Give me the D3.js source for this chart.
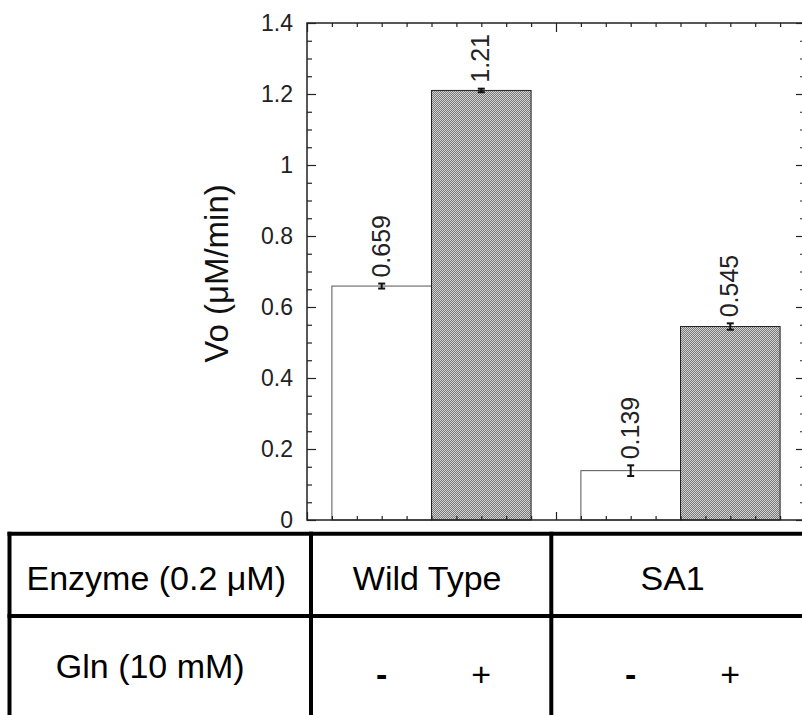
<!DOCTYPE html>
<html>
<head>
<meta charset="utf-8">
<script src="https://cdn.jsdelivr.net/npm/d3@7"></script>
<style>
  body { margin: 0; background: white; }
  svg { display: block; font-family: "Liberation Sans", Arial, Helvetica, sans-serif; }
</style>
</head>
<body>
<div id="chart"></div>
<script>
// Data
const groups = ["Wild Type", "SA1"];
const glnLevels = ["-", "+"];
const wtValues = [0.659, 1.21];
const sa1Values = [0.139, 0.545];
const wtErrors = [0.007, 0.005];
const sa1Errors = [0.015, 0.009];
const yTickValues = [0, 0.2, 0.4, 0.6, 0.8, 1, 1.2, 1.4];
const rowLabels = ["Enzyme (0.2 \u03bcM)", "Gln (10 mM)"];

const bars = [];
[wtValues, sa1Values].forEach((vals, gi) => {
    vals.forEach((v, li) => {
        bars.push({
            group: groups[gi],
            gln: glnLevels[li],
            value: v,
            err: [wtErrors, sa1Errors][gi][li]
        });
    });
});

// Dimensions
const width = 802,
      height = 715;

const plot = { left: 307, right: 805, top: 23, bottom: 520 };

const svg = d3.select("#chart")
    .append("svg")
    .attr("width", width)
    .attr("height", height)
    .style("background", "white");

// dotted grey fill for the "+" bars
const pat = svg.append("defs").append("pattern")
    .attr("id", "dots")
    .attr("width", 2)
    .attr("height", 2)
    .attr("patternUnits", "userSpaceOnUse");
pat.append("rect").attr("width", 2).attr("height", 2).attr("fill", "#7a7a7a");
pat.append("rect").attr("width", 1).attr("height", 1).attr("fill", "#d2d2d2");
pat.append("rect").attr("x", 1).attr("y", 1).attr("width", 1).attr("height", 1).attr("fill", "#d2d2d2");

// Scales
const x = d3.scaleLinear()
    .domain([0, 20])
    .range([plot.left, plot.right]);

const xGroup = d3.scaleBand()
    .domain(groups)
    .range([x(0), x(20)])
    .paddingInner(0.2)
    .paddingOuter(0.1);

const xInner = d3.scaleBand()
    .domain(glnLevels)
    .range([0, xGroup.bandwidth()]);

const y = d3.scaleLinear()
    .domain([0, 1.4])
    .range([plot.bottom, plot.top]);

const barX = d => xGroup(d.group) + xInner(d.gln);
const barCenter = d => barX(d) + xInner.bandwidth() / 2;

// Bars
svg.append("g")
    .selectAll("rect")
    .data(bars)
    .join("rect")
    .attr("x", barX)
    .attr("y", d => y(d.value))
    .attr("width", xInner.bandwidth())
    .attr("height", d => y(0) - y(d.value))
    .attr("fill", d => d.gln === "+" ? "url(#dots)" : "white")
    .attr("stroke", d => d.gln === "+" ? "#222" : "#555")
    .attr("stroke-width", 1);

// Error bars
const eb = svg.append("g")
    .attr("stroke", "#111")
    .attr("stroke-width", 2);

bars.forEach(d => {
    const cx = barCenter(d);
    eb.append("line")
        .attr("x1", cx).attr("x2", cx)
        .attr("y1", y(d.value - d.err))
        .attr("y2", y(d.value + d.err));
    [d.value - d.err, d.value + d.err].forEach(v => {
        eb.append("line")
            .attr("x1", cx - 3.5).attr("x2", cx + 3.5)
            .attr("y1", y(v)).attr("y2", y(v));
    });
});

// Value labels
svg.append("g")
    .selectAll("text")
    .data(bars)
    .join("text")
    .attr("transform", d => `translate(${barCenter(d) + 8},${y(d.value + d.err) - 6}) rotate(-90)`)
    .attr("text-anchor", "start")
    .style("font-size", "25px")
    .style("fill", "#222")
    .text(d => String(d.value));

// Frame
svg.append("rect")
    .attr("x", plot.left)
    .attr("y", plot.top)
    .attr("width", plot.right - plot.left)
    .attr("height", plot.bottom - plot.top)
    .attr("fill", "none")
    .attr("stroke", "#222")
    .attr("stroke-width", 1.5);

// Ticks (all pointing inward)
const yMinor = d3.range(0, 29).map(i => +(i * 0.05).toFixed(2)).filter(v => !yTickValues.includes(v));
const xMajor = [0, 10, 20];
const xMinor = d3.range(0, 21).filter(v => !xMajor.includes(v));

function tickGroup(axis, transform) {
    const g = svg.append("g")
        .attr("transform", transform)
        .call(axis);
    g.select(".domain").remove();
    g.selectAll(".tick line").attr("stroke", "#222").attr("stroke-width", 1.2);
    return g;
}

const yAxis = tickGroup(
    d3.axisLeft(y).tickValues(yTickValues).tickSize(-9).tickPadding(14).tickFormat(d => String(d)),
    `translate(${plot.left},0)`);
yAxis.selectAll("text")
    .style("font-size", "23px")
    .style("font-family", "Liberation Sans, Arial, sans-serif")
    .style("fill", "#222");

tickGroup(d3.axisLeft(y).tickValues(yMinor).tickSize(-5).tickFormat(""), `translate(${plot.left},0)`);
tickGroup(d3.axisRight(y).tickValues(yTickValues).tickSize(-9).tickFormat(""), `translate(${plot.right},0)`);
tickGroup(d3.axisRight(y).tickValues(yMinor).tickSize(-5).tickFormat(""), `translate(${plot.right},0)`);
tickGroup(d3.axisTop(x).tickValues(xMajor).tickSize(-9).tickFormat(""), `translate(0,${plot.top})`);
tickGroup(d3.axisTop(x).tickValues(xMinor).tickSize(-4).tickFormat(""), `translate(0,${plot.top})`);
tickGroup(d3.axisBottom(x).tickValues(xMajor).tickSize(-8).tickFormat(""), `translate(0,${plot.bottom})`);
tickGroup(d3.axisBottom(x).tickValues(xMinor).tickSize(-4).tickFormat(""), `translate(0,${plot.bottom})`);

// Y-axis title
svg.append("text")
    .attr("transform", `translate(228,${(plot.top + plot.bottom) / 2 + 2}) rotate(-90)`)
    .attr("text-anchor", "middle")
    .style("font-size", "33px")
    .style("fill", "#111")
    .text("Vo (\u03bcM/min)");

// Table under the chart
const table = {
    cols: [9.5, 311, 551.3, 802],
    rows: [533.7, 616, 717],
    rowBaselines: [590, 678],
    signBaseline: 686
};

const tg = svg.append("g")
    .attr("stroke", "#000")
    .attr("stroke-width", 4);

table.rows.slice(0, 2).forEach(ry => {
    tg.append("line")
        .attr("x1", table.cols[0] - 2).attr("x2", width)
        .attr("y1", ry).attr("y2", ry);
});
table.cols.slice(0, 3).forEach(cx => {
    tg.append("line")
        .attr("x1", cx).attr("x2", cx)
        .attr("y1", table.rows[0] - 2).attr("y2", height);
});

const labelCenter = (table.cols[0] + table.cols[1]) / 2;
svg.append("g")
    .selectAll("text")
    .data(rowLabels)
    .join("text")
    .attr("x", (d, i) => labelCenter - 4 - i * 6)
    .attr("y", (d, i) => table.rowBaselines[i])
    .attr("text-anchor", "middle")
    .style("font-size", "34px")
    .style("fill", "#000")
    .text(d => d);

// enzyme names, centred in their table columns
svg.append("g")
    .selectAll("text")
    .data(groups)
    .join("text")
    .attr("x", (d, i) => (table.cols[i + 1] + table.cols[i + 2]) / 2 - 4)
    .attr("y", table.rowBaselines[0])
    .attr("text-anchor", "middle")
    .style("font-size", "34px")
    .style("fill", "#000")
    .text(d => d);

// Gln -/+ under each bar
svg.append("g")
    .selectAll("text")
    .data(bars)
    .join("text")
    .attr("x", barCenter)
    .attr("y", table.signBaseline)
    .attr("text-anchor", "middle")
    .style("font-size", "34px")
    .style("font-weight", d => d.gln === "-" ? "bold" : "normal")
    .style("fill", "#000")
    .text(d => d.gln);
</script>
</body>
</html>
